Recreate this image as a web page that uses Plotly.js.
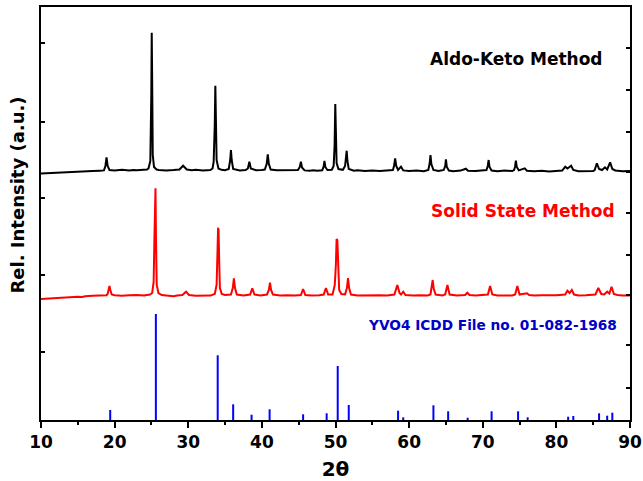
<!DOCTYPE html>
<html>
<head>
<meta charset="utf-8">
<script src="https://cdn.plot.ly/plotly-3.0.1.min.js"></script>
<style>html,body{margin:0;padding:0;background:#fff;}#chart{width:643px;height:481px;}</style>
</head>
<body>
<div id="chart"></div>
<script>
// ---- Data (2θ in degrees, intensity in a.u.) ----
const aldoKetoTheta = [10.0,11.0,12.0,12.6,13.0,14.0,15.0,15.6,16.0,17.0,18.0,18.5,
  18.55,18.75,18.9,19.05,19.3,20.0,21.0,22.0,22.5,23.0,24.0,24.4,
  24.6,24.85,24.98,25.04,25.1,25.18,25.35,25.7,26.0,27.0,28.0,28.8,29.3,29.8,30.5,31.0,32.0,33.0,33.3,
  33.45,33.6,33.68,33.76,33.85,34.1,34.5,35.0,
  35.5,35.7,35.8,35.9,36.1,37.0,37.8,
  38.1,38.3,38.5,39.2,40.0,40.4,
  40.65,40.8,40.95,41.2,42.0,43.0,44.0,44.9,
  45.15,45.3,45.45,45.8,46.5,47.0,47.5,48.2,
  48.38,48.5,48.62,48.9,49.5,49.75,
  49.88,49.97,50.05,50.15,50.4,51.0,51.3,
  51.42,51.52,51.62,51.8,52.5,53.0,54.0,55.0,56.0,57.0,57.8,
  57.95,58.1,58.25,58.5,58.9,59.2,60.0,61.0,62.0,62.6,
  62.78,62.9,63.02,63.3,64.0,64.7,
  64.9,65.0,65.12,65.4,66.0,67.0,67.7,68.0,69.0,70.0,70.5,
  70.68,70.8,70.92,71.2,72.0,73.0,74.0,74.25,
  74.38,74.5,74.62,74.9,75.7,76.0,77.0,78.0,79.0,80.0,80.8,
  81.2,81.5,82.0,82.3,83.0,84.0,85.0,85.2,
  85.5,85.8,86.2,86.6,86.9,87.3,87.6,88.0,89.0,90.0];
const aldoKetoCounts = [1.5,1.8,2.2,1.9,2.6,2.8,3.2,3.0,3.6,3.9,4.3,4.6,
  4.6,9,17.7,9,5,4.6,5.2,4.5,5.0,4.7,5.3,5.5,
  6.5,14,80,142.3,95,20,8,5.5,5.0,4.6,5.0,5.5,9.3,5.5,4.8,5.2,4.6,5.0,6.5,
  13,50,89.3,55,15,6.5,5.2,4.8,
  6,15,25,15,6,4.6,5,
  6.5,13.3,6.5,4.8,5.1,5.5,
  11,20.7,11,5.5,4.8,5.0,4.5,5,
  8,13.3,7.5,4.6,4.3,4.8,4.2,4.8,
  8,14,8,5,5.2,9,
  30,71,45,12,6,5.2,9,
  18,24.3,14,6,4.3,4.8,4.0,4.6,4.0,4.5,5,
  9,16.7,9,5,8.3,4.6,4.0,4.5,3.8,5,
  11,20,11,5,4.0,5,
  9,15.7,8,4.5,3.8,4.4,6.3,4.3,4.0,4.4,5,
  9,15,8,4.5,3.8,4.4,3.9,5,
  8,14.3,8,4.6,6.7,4.3,3.8,4.2,3.6,4.1,4.5,
  8.3,6.5,9.3,5,3.8,4.2,4.0,5,
  11.7,6,5,7.7,5.5,12.7,6,4.5,3.8,4.0];

const solidStateTheta = [10.0,11.0,12.0,12.6,13.0,14.0,15.0,15.6,16.0,17.0,18.0,18.9,
  19.05,19.2,19.3,19.42,19.6,20.0,21.0,22.0,22.8,23.0,24.0,24.8,
  25.1,25.3,25.4,25.47,25.55,25.62,25.72,25.95,26.4,
  27.0,28.0,28.5,29.2,29.7,30.1,31.0,32.0,33.0,33.6,
  33.85,33.98,34.05,34.12,34.2,34.3,34.55,35.0,35.8,
  36.05,36.2,36.35,36.6,37.5,38.4,
  38.7,39.0,39.8,40.7,
  40.95,41.1,41.25,41.5,42.5,43.5,44.5,45.3,
  45.6,45.9,46.8,47.8,48.4,
  48.7,49.0,49.6,49.9,
  50.05,50.15,50.25,50.35,50.5,50.8,51.3,
  51.55,51.7,51.85,52.1,53.0,54.0,55.0,56.0,57.0,58.0,
  58.4,58.7,58.9,59.2,59.5,60.5,61.5,62.5,62.9,
  63.05,63.2,63.35,63.6,64.5,64.9,
  65.2,65.5,66.5,67.6,67.9,68.2,69.0,70.0,70.7,
  71.0,71.3,72.0,73.0,74.0,74.4,74.7,75.0,76.0,76.3,77.0,78.0,79.0,80.0,81.2,
  81.5,81.8,82.1,82.4,83.0,84.0,85.3,85.7,86.1,86.5,86.9,87.2,87.5,87.8,88.3,89.0,90.0];
const solidStateCounts = [1,1.5,2,1.6,2.5,3,3.3,3.0,3.8,4.2,4.5,4.8,
  6,11,14,10,5.5,4.8,4.3,4.8,4.3,4.9,4.5,5.5,
  7,18,60,111.7,111.7,60,15,7,5,
  4.5,3.8,4.6,5,8.3,5,4.2,4.6,4.4,6,
  15,50,72.3,70,40,12,6,5,5.5,
  12,21.7,12,5.5,4.6,5.5,
  11.7,5.5,4.6,5.5,
  10,17.3,10,5.5,4.5,4.8,4.4,5,
  11,5,4.5,4.8,5.5,
  12,5.5,5.5,15,
  35,61,60,30,10,6,5.5,
  12,22,12,5.5,4.5,4.8,4.4,4.8,4.5,5.5,
  15,7,5.5,8.3,5,4.5,4.8,4.5,5.5,
  11,20,11,5.5,4.6,5.5,
  15,5.5,4.6,5,7.3,5,4.6,4.8,5.5,
  14,5.5,4.6,4.8,4.6,5.5,14,5.5,6.7,5,4.6,4.8,4.5,4.8,5.5,
  9.3,7,10,5.5,4.6,4.8,5.5,12,6,5.5,8.3,6.5,13.3,6,5,4.6,4.6];

const icddTheta = [19.4,25.6,34.0,36.1,38.6,41.05,45.6,48.8,50.3,51.8,58.5,59.2,63.3,65.3,67.95,71.2,74.8,76.1,81.6,82.3,85.8,86.9,87.6];
const icddIntensity = [10,106,64.7,15.7,5.3,10.7,5.7,6.7,54,15,9.3,2.7,14.7,8.7,2.3,8.7,8.7,2.7,3.3,4,6.7,4.3,7.3];

const xTickVals = [10,20,30,40,50,60,70,80,90];
const xTickText = ["10","20","30","40","50","60","70","80","90"];

// ---- Layout constants (vertical stacking of the three patterns) ----
const aldoKetoOffset = 245;
const solidStateOffset = 120;

const stickX = [], stickY = [];
icddTheta.forEach((t, i) => { stickX.push(t, t, null); stickY.push(0, icddIntensity[i], null); });

const traces = [
  {x: aldoKetoTheta, y: aldoKetoCounts.map(v => v + aldoKetoOffset), type: 'scatter', mode: 'lines',
   line: {color: '#000000', width: 2}, hoverinfo: 'skip'},
  {x: solidStateTheta, y: solidStateCounts.map(v => v + solidStateOffset), type: 'scatter', mode: 'lines',
   line: {color: '#ff0000', width: 2}, hoverinfo: 'skip'},
  {x: stickX, y: stickY, type: 'scatter', mode: 'lines', connectgaps: false,
   line: {color: '#0000ff', width: 2}, hoverinfo: 'skip'},
  {x: [10], y: [0], yaxis: 'y2', type: 'scatter', mode: 'markers', marker: {opacity: 0}, hoverinfo: 'skip'}
];

const boldFont = {family: 'DejaVu Sans, sans-serif', weight: 'bold', color: '#000'};

const layout = {
  width: 643, height: 481,
  margin: {l: 41, r: 13, t: 7, b: 61},
  paper_bgcolor: '#fff', plot_bgcolor: '#fff',
  showlegend: false,
  xaxis: {
    range: [10, 90], showgrid: false, zeroline: false,
    showline: true, linecolor: '#000', linewidth: 2, mirror: true,
    ticks: 'outside', ticklen: 6, tickwidth: 2, tickcolor: '#000',
    tickmode: 'array', tickvals: xTickVals, ticktext: xTickText,
    minor: {tickvals: [15,25,35,45,55,65,75,85], ticks: 'outside', ticklen: 3, tickwidth: 2, tickcolor: '#000'},
    tickfont: Object.assign({}, boldFont, {size: 17}),
    title: {text: '2θ', font: Object.assign({}, boldFont, {size: 20}), standoff: 12}
  },
  yaxis: {
    range: [0, 413], showgrid: false, zeroline: false,
    showline: true, linecolor: '#000', linewidth: 2,
    ticks: 'inside', ticklen: 4, tickwidth: 1.5, tickcolor: '#000',
    tickmode: 'array', tickvals: [68, 145, 222, 298, 377], showticklabels: false
  },
  yaxis2: {
    range: [0, 413], overlaying: 'y', side: 'right', showgrid: false, zeroline: false,
    showline: true, linecolor: '#000', linewidth: 2,
    ticks: 'inside', ticklen: 4, tickwidth: 1.5, tickcolor: '#000',
    tickmode: 'array', tickvals: [32, 75, 125, 165, 207, 248, 288, 330, 372], showticklabels: false
  },
  annotations: [
    {xref: 'paper', yref: 'paper', x: -24/589, y: (420-195.5)/413, xanchor: 'center', yanchor: 'middle',
     text: 'Rel. Intensity (a.u.)', textangle: -90, showarrow: false,
     font: Object.assign({}, boldFont, {size: 18})},
    {xref: 'x', yref: 'y', x: 74.65, y: 361, xanchor: 'center', yanchor: 'middle', showarrow: false,
     text: 'Aldo-Keto Method', font: Object.assign({}, boldFont, {size: 17, color: '#000'})},
    {xref: 'x', yref: 'y', x: 75.47, y: 209, xanchor: 'center', yanchor: 'middle', showarrow: false,
     text: 'Solid State Method', font: Object.assign({}, boldFont, {size: 17, color: '#ff0000'})},
    {xref: 'x', yref: 'y', x: 71.32, y: 95.5, xanchor: 'center', yanchor: 'middle', showarrow: false,
     text: 'YVO4 ICDD File no. 01-082-1968', font: Object.assign({}, boldFont, {size: 13.7, color: '#0000c8'})}
  ]
};

Plotly.newPlot('chart', traces, layout, {staticPlot: true, displayModeBar: false});
</script>
</body>
</html>
